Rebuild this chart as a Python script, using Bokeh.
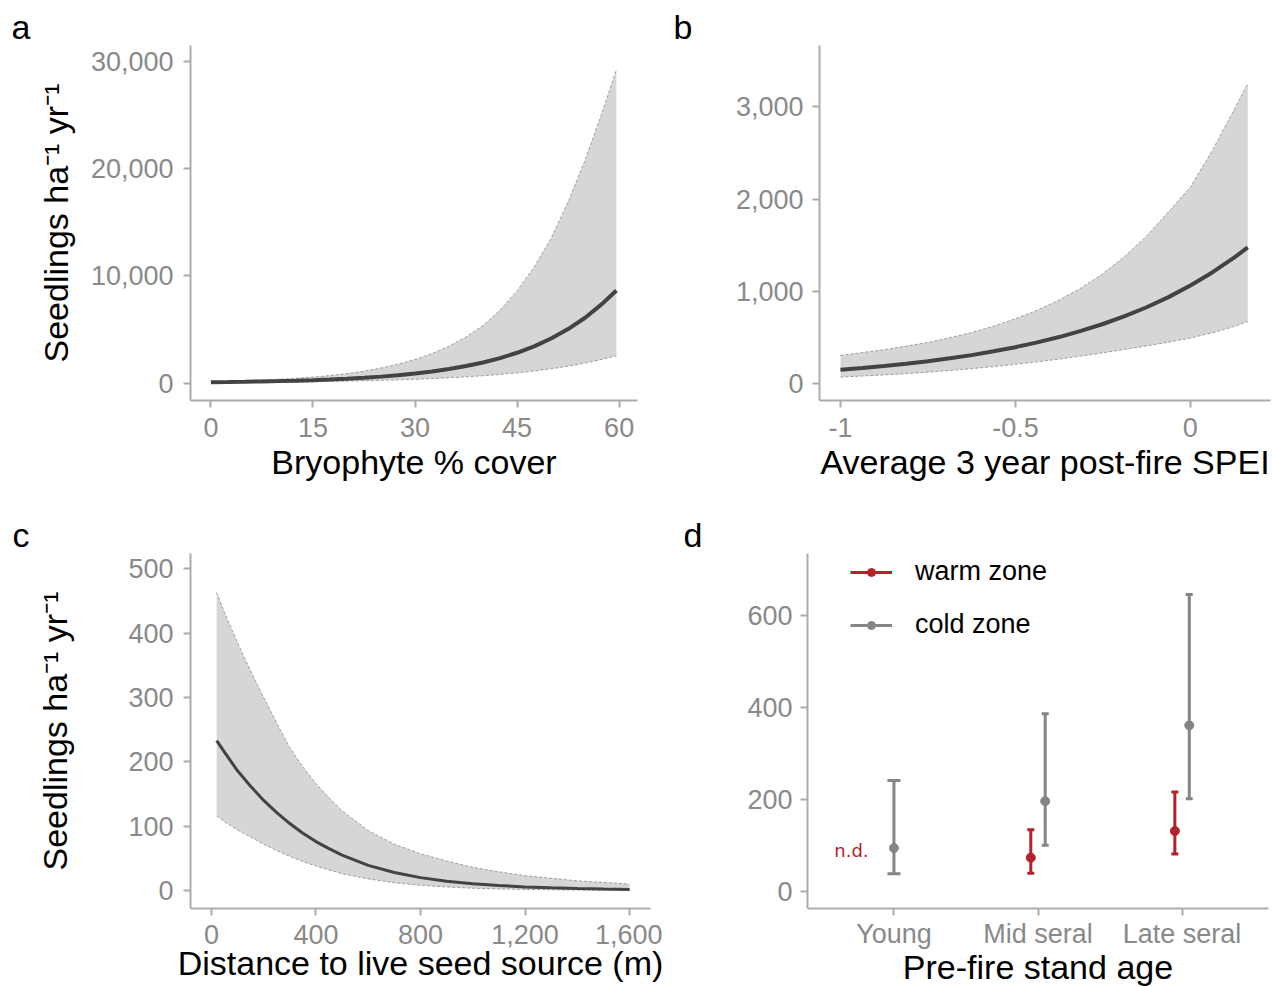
from bokeh.plotting import figure
from bokeh.layouts import row, column
from bokeh.models import (ColumnDataSource, FixedTicker, NumeralTickFormatter, Title,
                          Legend, LegendItem, FactorRange, Range1d)
from bokeh.embed import file_html
from bokeh.resources import INLINE
from bokeh.core.properties import value

# ---------------- data ----------------
# (a) bryophyte cover
bry_cover = [0, 2.5, 5, 7.5, 10, 12.5, 15, 17.5, 20, 22.5, 25, 27.5, 30, 32.5, 35, 37.5,
             40, 42.5, 45, 47.5, 50, 52.5, 55, 57.5, 59.6]
bry_fit = [90, 109, 132, 160, 194, 235, 284, 344, 417, 505, 612, 741, 898, 1087, 1317, 1595,
           1932, 2340, 2835, 3434, 4160, 5038, 6100, 7390, 8640]
bry_upper = [158, 194, 240, 298, 369, 458, 568, 712, 892, 1121, 1408, 1764, 2209, 2761, 3451,
             4307, 5371, 6800, 8600, 10800, 13500, 16900, 20800, 25200, 29200]
bry_lower = [51, 61, 73, 86, 102, 121, 142, 166, 195, 227, 266, 311, 365, 428, 503, 591,
             695, 818, 964, 1137, 1342, 1584, 1871, 2219, 2556]

# (b) SPEI
spei = [-1.0, -0.9375, -0.875, -0.8125, -0.75, -0.6875, -0.625, -0.5625, -0.5, -0.4375,
        -0.375, -0.3125, -0.25, -0.1875, -0.125, -0.0625, 0.0, 0.0625, 0.125, 0.164]
spei_fit = [145, 164, 186, 211, 238, 270, 305, 346, 391, 443, 501, 568, 643, 729, 825, 935,
            1062, 1203, 1363, 1475]
spei_upper = [301, 333, 364, 403, 442, 494, 550, 619, 700, 793, 903, 1034, 1190, 1378, 1600,
              1861, 2130, 2526, 2971, 3254]
spei_lower = [66, 78, 90, 104, 120, 138, 158, 180, 205, 232, 262, 295, 330, 367, 405, 446,
              490, 547, 616, 670]

# (c) distance to seed source
dist = [20, 50, 100, 150, 200, 250, 300, 350, 400, 450, 500, 600, 700, 800, 900, 1000,
        1100, 1200, 1300, 1400, 1500, 1600]
dist_fit = [233, 215, 186, 162, 140, 121, 104, 89, 76, 65, 55, 39, 28, 20, 14.5, 10.5,
            7.7, 5.6, 4.1, 3.0, 2.2, 1.6]
dist_upper = [463, 432, 385, 341, 300, 260, 222, 192, 166, 144, 124, 93, 72, 57, 46, 36,
              29, 23, 19, 15, 12.5, 10]
dist_lower = [116, 107, 94, 83, 72, 62, 53, 45, 38, 32, 26, 18, 12, 8, 5.5, 3.5,
              2.4, 1.6, 1.1, 0.7, 0.5, 0.3]

# (d) stand age
ages = ["Young", "Mid seral", "Late seral"]
warm_age = ["Mid seral", "Late seral"]
warm_mean = [73, 131]
warm_low = [39, 81]
warm_high = [134, 216]
cold_age = ["Young", "Mid seral", "Late seral"]
cold_mean = [94, 196, 361]
cold_low = [38, 100, 201]
cold_high = [241, 386, 646]

# tick values
a_xticks = [0, 15, 30, 45, 60]
a_yticks = [0, 10000, 20000, 30000]
b_xticks = [-1, -0.5, 0]
b_yticks = [0, 1000, 2000, 3000]
c_xticks = [0, 400, 800, 1200, 1600]
c_yticks = [0, 100, 200, 300, 400, 500]
d_yticks = [0, 200, 400, 600]

# ---------------- style ----------------
FONT = "Liberation Sans"
AXIS_GREY = "#ababab"
TICK_TEXT = "#898989"
RIBBON = "#d6d6d6"
RIB_EDGE = "#8a8a8a"
FIT = "#434343"
WARM = "#b2222a"
COLD = "#858585"
YLAB = "Seedlings ha\u207b\u00b9 yr\u207b\u00b9"


def make_fig(w, h, xr, yr, lb, rb, tb, bb):
    p = figure(width=w, height=h, x_range=xr, y_range=yr, output_backend="svg",
               toolbar_location=None, min_border_left=lb, min_border_right=rb,
               min_border_top=tb, min_border_bottom=bb)
    p.xgrid.visible = False
    p.ygrid.visible = False
    p.outline_line_color = None
    p.background_fill_color = "white"
    p.border_fill_color = "white"
    for ax in (p.xaxis[0], p.yaxis[0]):
        ax.axis_line_color = AXIS_GREY
        ax.axis_line_width = 2
        ax.major_tick_line_color = AXIS_GREY
        ax.major_tick_line_width = 2
        ax.major_tick_in = 0
        ax.major_tick_out = 7
        ax.minor_tick_line_color = None
        ax.major_label_text_font = FONT
        ax.major_label_text_font_size = "27px"
        ax.major_label_text_color = TICK_TEXT
        ax.axis_label_text_font = FONT
        ax.axis_label_text_font_size = "34px"
        ax.axis_label_text_font_style = "normal"
        ax.axis_label_text_color = "black"
    return p


def panel_letter(p, text, offset):
    p.add_layout(Title(text=text, align="left", offset=offset, standoff=0,
                       text_font=FONT, text_font_size="34px", text_font_style="normal",
                       text_color="black"), "above")


def ribbon(p, x, lo, hi, fit, lw):
    src = ColumnDataSource(dict(x=x, lo=lo, hi=hi, fit=fit))
    p.varea(x="x", y1="lo", y2="hi", source=src, fill_color=RIBBON)
    p.line(x="x", y="hi", source=src, line_color=RIB_EDGE, line_width=0.8, line_dash="3 2")
    p.line(x="x", y="lo", source=src, line_color=RIB_EDGE, line_width=0.8, line_dash="3 2")
    p.line(x="x", y="fit", source=src, line_color=FIT, line_width=lw)


TOP_H = 496
BOT_H = 508      # bottom border runs past the window and is clipped by the layout box

# ---- panel a ----
pa = make_fig(662, TOP_H, Range1d(-3.0, 62.7), Range1d(-1612, 31460), 190, 25, 45, TOP_H - 400)
ribbon(pa, bry_cover, bry_lower, bry_upper, bry_fit, 4)
pa.xaxis.ticker = FixedTicker(ticks=a_xticks)
pa.yaxis.ticker = FixedTicker(ticks=a_yticks)
pa.yaxis.formatter = NumeralTickFormatter(format="0,0")
pa.xaxis.axis_label = "Bryophyte % cover"
pa.yaxis.axis_label = YLAB
pa.xaxis.major_label_standoff = 10
pa.xaxis.axis_label_standoff = 3
pa.yaxis.major_label_standoff = 10
pa.yaxis.axis_label_standoff = 13
panel_letter(pa, "a", -179)

# ---- panel b ----
pb = make_fig(610, TOP_H, Range1d(-1.06, 0.229), Range1d(-188, 3668), 157, 2, 45, TOP_H - 400)
ribbon(pb, spei, spei_lower, spei_upper, spei_fit, 4)
pb.xaxis.ticker = FixedTicker(ticks=b_xticks)
pb.yaxis.ticker = FixedTicker(ticks=b_yticks)
pb.yaxis.formatter = NumeralTickFormatter(format="0,0")
pb.xaxis.formatter = NumeralTickFormatter(format="0.[0]")
pb.xaxis.axis_label = "Average 3 year post-fire SPEI"
pb.xaxis.major_label_standoff = 10
pb.xaxis.axis_label_standoff = 3
pb.yaxis.major_label_standoff = 9
panel_letter(pb, "b", -146)

# ---- panel c ----
pc = make_fig(662, BOT_H, Range1d(-80, 1680), Range1d(-28, 523.7), 190, 12,
              553 - TOP_H, TOP_H + BOT_H - 908)
ribbon(pc, dist, dist_lower, dist_upper, dist_fit, 3)
pc.xaxis.ticker = FixedTicker(ticks=c_xticks)
pc.yaxis.ticker = FixedTicker(ticks=c_yticks)
pc.xaxis.formatter = NumeralTickFormatter(format="0,0")
pc.xaxis.axis_label = "Distance to live seed source (m)"
pc.yaxis.axis_label = YLAB
pc.xaxis.major_label_standoff = 9
pc.xaxis.axis_label_standoff = -3
pc.yaxis.major_label_standoff = 10
pc.yaxis.axis_label_standoff = 51
panel_letter(pc, "c", -178)

# ---- panel d ----
DODGE = 0.05
pd = make_fig(610, BOT_H, FactorRange(*ages, range_padding=0.1, range_padding_units="absolute"),
              Range1d(-37.6, 735), 145, 4, 553 - TOP_H, TOP_H + BOT_H - 908)
warm_src = ColumnDataSource(dict(
    x=[(a, -DODGE) for a in warm_age], m=warm_mean, lo=warm_low, hi=warm_high,
    cap=[7 for _ in warm_age]))
cold_src = ColumnDataSource(dict(
    x=[(a, DODGE if a in warm_age else 0.0) for a in cold_age], m=cold_mean,
    lo=cold_low, hi=cold_high, cap=[7 if a in warm_age else 13 for a in cold_age]))

leg_items = []
for src, col, name in ((warm_src, WARM, "warm zone"), (cold_src, COLD, "cold zone")):
    stem = pd.segment(x0="x", y0="lo", x1="x", y1="hi", source=src, line_color=col, line_width=3)
    pd.scatter(x="x", y="lo", source=src, marker="dash", size="cap", line_color=col, line_width=3)
    pd.scatter(x="x", y="hi", source=src, marker="dash", size="cap", line_color=col, line_width=3)
    pt = pd.scatter(x="x", y="m", source=src, marker="circle", size=9, fill_color=col, line_color=col)
    leg_items.append(LegendItem(label=name, renderers=[stem, pt]))

pd.text(x=[("Young", -0.295)], y=[89], text=["n.d."], text_color=WARM,
        text_font=value("DejaVu Sans"), text_font_size="18px",
        text_align="center", text_baseline="middle")

legend = Legend(items=leg_items, location=(43, 268), orientation="vertical",
                glyph_width=42, glyph_height=20, label_height=20, spacing=22,
                label_standoff=23, padding=0, margin=0,
                label_text_font=FONT, label_text_font_size="27px", label_text_color="black",
                border_line_alpha=0, background_fill_alpha=0)
pd.add_layout(legend, "center")
pd.yaxis.ticker = FixedTicker(ticks=d_yticks)
pd.xaxis.axis_label = "Pre-fire stand age"
pd.xaxis.major_label_standoff = 3
pd.xaxis.axis_label_standoff = -4
pd.yaxis.major_label_standoff = 8
panel_letter(pd, "d", -124)

layout = column(row(pa, pb), row(pc, pd), width=1272, height=987,
                stylesheets=[":host { overflow: hidden !important; }"])
open("out.html", "w").write(file_html(layout, INLINE))
